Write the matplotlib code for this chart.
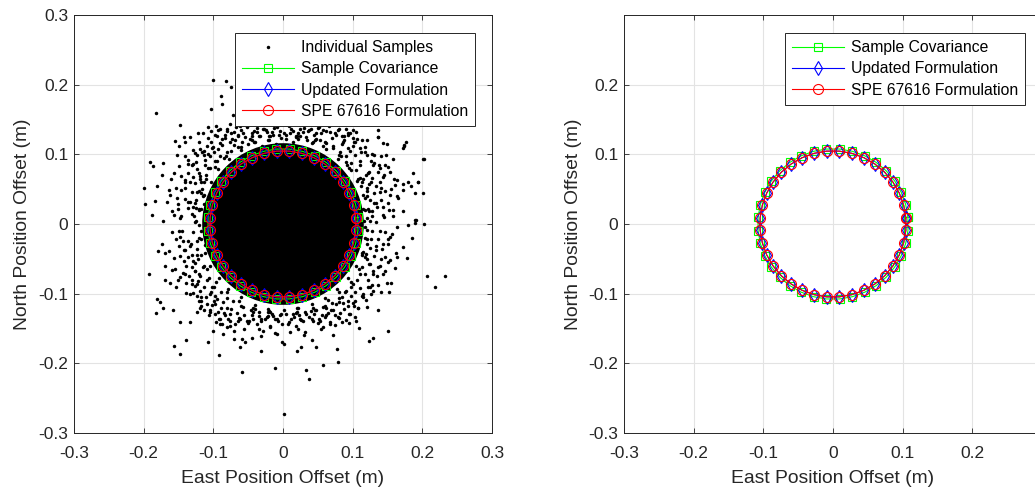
import numpy as np
import matplotlib
matplotlib.use("Agg")
import matplotlib.pyplot as plt
from matplotlib.patches import Circle

plt.rcParams['font.family'] = ['Liberation Sans', 'DejaVu Sans']

# ---------------- data ----------------
# individual samples outside the saturated core (east, north in metres)
sample_east = [
    # north-west
    -0.101, -0.082, -0.075, -0.089, -0.088, -0.104, -0.182, -0.148, -0.107, -0.115,
    -0.122, -0.133, -0.142, -0.155, -0.097, -0.094, -0.081, -0.083, -0.090, -0.102,
    -0.109, -0.076, -0.069, -0.071, -0.149, -0.141, -0.129, -0.124, -0.114, -0.107,
    -0.191, -0.187, -0.172, -0.152, -0.136, -0.131, -0.121, -0.112, -0.174, -0.157,
    -0.141, -0.133, -0.124, -0.199, -0.181, -0.164, -0.152, -0.136, -0.129, -0.198,
    -0.184, -0.167, -0.160, -0.148, -0.172, -0.188, -0.118, -0.115, -0.120, -0.112,
    -0.125, -0.110, -0.105, -0.095, -0.085, -0.075, -0.060, -0.050, -0.040, -0.030,
    -0.020, -0.010, -0.055, -0.065, -0.045, -0.035, -0.025, -0.015, -0.005, -0.062,
    -0.050, -0.038, -0.072, -0.116, -0.126, -0.119, -0.130, -0.113,
    -0.118, -0.125, -0.121, -0.114, -0.128, -0.136, -0.131, -0.119, -0.107, -0.098,
    -0.090, -0.081, -0.071, -0.059, -0.047, -0.033, -0.020, -0.006, -0.141, -0.123,
    -0.112, -0.099, -0.087, -0.073, -0.057, -0.042, -0.027, -0.013, -0.146, -0.126,
    -0.105, -0.094, -0.065, -0.140, -0.129, -0.116, -0.103, -0.083, -0.051, -0.019,
    -0.147, -0.136,
    # north-east
    0.100, 0.136, 0.174, 0.172, 0.203, 0.143, 0.131, 0.148, 0.158, 0.146,
    0.129, 0.139, 0.153, 0.143, 0.163, 0.172, 0.179, 0.194, 0.184, 0.172,
    0.189, 0.201, 0.165, 0.153, 0.139, 0.131, 0.143, 0.158, 0.172, 0.189,
    0.143, 0.124, 0.120, 0.115, 0.122, 0.110, 0.103, 0.093, 0.086, 0.076,
    0.067, 0.057, 0.048, 0.038, 0.029, 0.019, 0.010, 0.072, 0.062, 0.053,
    0.081, 0.091, 0.098, 0.108, 0.112, 0.117, 0.115, 0.120, 0.134, 0.127,
    0.134, 0.100, 0.110, 0.120, 0.093, 0.079, 0.043, 0.102, 0.114, 0.137,
    0.149, 0.176, 0.174, 0.201, 0.194, 0.187, 0.161, 0.137, 0.087, 0.096,
    0.203, 0.191, 0.189, 0.005, 0.015, 0.025, 0.035,
    0.118, 0.125, 0.121, 0.113, 0.128, 0.135, 0.130, 0.119, 0.105, 0.098,
    0.090, 0.082, 0.072, 0.060, 0.047, 0.033, 0.020, 0.005, 0.140, 0.124,
    0.110, 0.096, 0.085, 0.070, 0.055, 0.040, 0.025, 0.012, 0.145, 0.116,
    0.123, 0.139, 0.131, 0.118, 0.104, 0.084, 0.052, 0.147, 0.136,
    # south-west
    -0.174, -0.179, -0.169, -0.193, -0.170, -0.155, -0.169, -0.162, -0.153, -0.181,
    -0.176, -0.183, -0.172, -0.158, -0.148, -0.134, -0.139, -0.156, -0.148, -0.108,
    -0.092, -0.059, -0.011, 0.001, -0.143, -0.148, -0.150, -0.141, -0.133, -0.136,
    -0.129, -0.124, -0.131, -0.148, -0.141, -0.131, -0.124, -0.119, -0.133, -0.124,
    -0.121, -0.117, -0.109, -0.114, -0.124, -0.105, -0.098, -0.090, -0.083, -0.076,
    -0.069, -0.062, -0.052, -0.045, -0.038, -0.031, -0.023, -0.016, -0.009, -0.002,
    -0.088, -0.081, -0.071, -0.059, -0.054, -0.045, -0.035, -0.028, -0.019, -0.009,
    -0.002, -0.031, -0.062, -0.071, -0.086, -0.100, -0.090, -0.105, -0.102, -0.109,
    -0.119, -0.126, -0.118, -0.112, -0.098, -0.080, -0.060, -0.040, -0.020, -0.113,
    -0.117, -0.124, -0.122, -0.115, -0.129, -0.137, -0.130, -0.120, -0.106, -0.099,
    -0.089, -0.080, -0.072, -0.058, -0.046, -0.034, -0.021, -0.005, -0.142, -0.122,
    -0.113, -0.098, -0.086, -0.074, -0.056, -0.043, -0.026, -0.012, -0.145, -0.127,
    -0.104, -0.095, -0.066, -0.139, -0.130, -0.117, -0.102, -0.084, -0.050, -0.018,
    -0.148, -0.135,
    # south-east
    0.207, 0.218, 0.178, 0.185, 0.172, 0.163, 0.151, 0.155, 0.152, 0.143,
    0.136, 0.129, 0.136, 0.151, 0.129, 0.123, 0.109, 0.105, 0.108, 0.115,
    0.122, 0.129, 0.124, 0.134, 0.143, 0.153, 0.139, 0.163, 0.179, 0.120,
    0.117, 0.110, 0.100, 0.091, 0.084, 0.076, 0.069, 0.062, 0.053, 0.043,
    0.033, 0.024, 0.014, 0.007, 0.022, 0.031, 0.041, 0.048, 0.020, 0.026,
    0.058, 0.077, 0.079, 0.072, 0.057, 0.084, 0.096, 0.033, 0.037, 0.067,
    0.093, 0.103, 0.079, 0.062, 0.048, 0.002, 0.233, 0.115, 0.112, 0.020,
    0.040, 0.060, 0.080,
    0.118, 0.125, 0.120, 0.114, 0.128, 0.136, 0.131, 0.118, 0.106, 0.097,
    0.089, 0.080, 0.070, 0.058, 0.046, 0.032, 0.019, 0.005, 0.113, 0.142,
    0.122, 0.111, 0.098, 0.086, 0.072, 0.056, 0.041, 0.026, 0.012, 0.146,
    0.117, 0.125, 0.104, 0.093, 0.064, 0.139, 0.128, 0.115, 0.102, 0.082,
    0.050, 0.018, 0.147, 0.135,
]
sample_north = [
    # north-west
    0.207, 0.205, 0.196, 0.184, 0.172, 0.165, 0.159, 0.142, 0.139, 0.131,
    0.131, 0.125, 0.125, 0.119, 0.128, 0.135, 0.133, 0.123, 0.116, 0.109,
    0.112, 0.118, 0.120, 0.132, 0.112, 0.118, 0.106, 0.099, 0.099, 0.101,
    0.089, 0.083, 0.087, 0.099, 0.092, 0.085, 0.073, 0.085, 0.070, 0.073,
    0.063, 0.061, 0.046, 0.051, 0.054, 0.049, 0.037, 0.032, 0.025, 0.028,
    0.033, 0.032, 0.018, 0.008, 0.005, 0.013, 0.060, 0.040, 0.020, 0.010,
    0.005, 0.070, 0.080, 0.090, 0.095, 0.105, 0.110, 0.115, 0.118, 0.112,
    0.120, 0.115, 0.125, 0.128, 0.130, 0.127, 0.135, 0.128, 0.133, 0.140,
    0.142, 0.138, 0.156, 0.050, 0.030, 0.065, 0.015, 0.028,
    0.021, 0.034, 0.047, 0.061, 0.011, 0.023, 0.046, 0.069, 0.080, 0.090,
    0.098, 0.104, 0.113, 0.117, 0.122, 0.126, 0.127, 0.128, 0.036, 0.079,
    0.092, 0.104, 0.114, 0.122, 0.131, 0.134, 0.137, 0.138, 0.012, 0.059,
    0.097, 0.108, 0.126, 0.061, 0.086, 0.103, 0.118, 0.128, 0.140, 0.146,
    0.049, 0.073,
    # north-east
    0.135, 0.125, 0.114, 0.109, 0.093, 0.116, 0.099, 0.099, 0.094, 0.085,
    0.085, 0.080, 0.075, 0.068, 0.063, 0.058, 0.061, 0.061, 0.054, 0.049,
    0.044, 0.044, 0.037, 0.042, 0.046, 0.030, 0.025, 0.020, 0.018, 0.006,
    0.013, 0.018, 0.051, 0.065, 0.073, 0.085, 0.099, 0.109, 0.118, 0.128,
    0.132, 0.135, 0.130, 0.135, 0.132, 0.125, 0.131, 0.109, 0.116, 0.120,
    0.099, 0.089, 0.077, 0.065, 0.054, 0.037, 0.022, 0.008, 0.003, 0.061,
    0.054, 0.123, 0.109, 0.099, 0.130, 0.135, 0.118, 0.118, 0.121, 0.125,
    0.115, 0.117, 0.112, 0.093, 0.061, 0.073, 0.056, 0.135, 0.126, 0.131,
    0.000, 0.006, 0.002, 0.122, 0.118, 0.126, 0.121,
    0.020, 0.035, 0.048, 0.060, 0.012, 0.025, 0.045, 0.070, 0.078, 0.088,
    0.097, 0.104, 0.112, 0.118, 0.122, 0.125, 0.127, 0.128, 0.035, 0.075,
    0.090, 0.105, 0.115, 0.124, 0.130, 0.136, 0.137, 0.136, 0.010, 0.005,
    0.057, 0.060, 0.087, 0.104, 0.117, 0.127, 0.139, 0.047, 0.074,
    # south-west
    -0.028, -0.039, -0.042, -0.072, -0.060, -0.065, -0.081, -0.084, -0.091, -0.108,
    -0.112, -0.128, -0.120, -0.123, -0.140, -0.141, -0.167, -0.175, -0.186, -0.169,
    -0.188, -0.213, -0.206, -0.273, -0.024, -0.019, -0.010, -0.038, -0.031, -0.048,
    -0.053, -0.045, -0.062, -0.076, -0.072, -0.081, -0.086, -0.096, -0.100, -0.103,
    -0.110, -0.117, -0.115, -0.124, -0.127, -0.127, -0.129, -0.136, -0.131, -0.139,
    -0.143, -0.136, -0.139, -0.131, -0.143, -0.139, -0.134, -0.129, -0.136, -0.143,
    -0.143, -0.148, -0.153, -0.165, -0.170, -0.163, -0.151, -0.153, -0.148, -0.158,
    -0.170, -0.182, -0.177, -0.165, -0.158, -0.153, -0.143, -0.100, -0.091, -0.081,
    -0.074, -0.067, -0.010, -0.030, -0.115, -0.120, -0.118, -0.122, -0.125, -0.060,
    -0.021, -0.036, -0.050, -0.062, -0.012, -0.025, -0.045, -0.072, -0.078, -0.090,
    -0.098, -0.106, -0.111, -0.119, -0.124, -0.126, -0.127, -0.130, -0.038, -0.082,
    -0.090, -0.104, -0.112, -0.122, -0.131, -0.136, -0.137, -0.137, -0.010, -0.056,
    -0.097, -0.108, -0.128, -0.060, -0.086, -0.105, -0.116, -0.128, -0.142, -0.146,
    -0.046, -0.075,
    # south-east
    -0.074, -0.090, -0.049, -0.020, -0.033, -0.048, -0.055, -0.084, -0.098, -0.072,
    -0.062, -0.096, -0.124, -0.153, -0.163, -0.168, -0.149, -0.139, -0.120, -0.100,
    -0.091, -0.072, -0.057, -0.038, -0.029, -0.019, -0.010, -0.005, -0.001, -0.029,
    -0.048, -0.072, -0.086, -0.096, -0.105, -0.115, -0.124, -0.131, -0.139, -0.139,
    -0.129, -0.136, -0.129, -0.143, -0.151, -0.155, -0.167, -0.177, -0.183, -0.177,
    -0.203, -0.179, -0.198, -0.160, -0.148, -0.141, -0.129, -0.209, -0.222, -0.143,
    -0.117, -0.110, -0.134, -0.120, -0.124, -0.172, -0.074, -0.040, -0.015, -0.120,
    -0.125, -0.118, -0.112,
    -0.020, -0.035, -0.050, -0.062, -0.010, -0.022, -0.046, -0.072, -0.080, -0.090,
    -0.098, -0.106, -0.113, -0.119, -0.124, -0.126, -0.128, -0.129, -0.044, -0.036,
    -0.080, -0.092, -0.104, -0.114, -0.124, -0.131, -0.136, -0.138, -0.137, -0.012,
    -0.004, -0.058, -0.097, -0.110, -0.128, -0.060, -0.088, -0.105, -0.118, -0.128,
    -0.142, -0.146, -0.048, -0.075,
]

# further samples in the dense band just outside the error ellipses
band_east = [
    0.150, 0.155, 0.145, 0.138, 0.128, 0.118, 0.106, 0.094, 0.080, 0.066,
    0.050, 0.036, 0.022, 0.008, 0.158, 0.152, 0.128, 0.141, 0.133, 0.126,
    0.112, 0.100, 0.088, 0.075, 0.062, 0.044, 0.030, 0.015, 0.163, 0.160,
    0.150, 0.140, 0.120, 0.105, 0.091,
    0.151, 0.154, 0.146, 0.137, 0.127, 0.119, 0.107, 0.095, 0.081, 0.067,
    0.051, 0.037, 0.023, 0.009, 0.157, 0.151, 0.129, 0.140, 0.134, 0.125,
    0.113, 0.101, 0.087, 0.074, 0.061, 0.045, 0.029, 0.016, 0.162, 0.161,
    0.149, 0.141, 0.121, 0.104, 0.090, 0.010, 0.030, 0.055, 0.075, 0.095,
    -0.150, -0.156, -0.144, -0.139, -0.129, -0.117, -0.105, -0.093, -0.079, -0.065,
    -0.049, -0.035, -0.021, -0.007, -0.159, -0.153, -0.127, -0.142, -0.132, -0.127,
    -0.111, -0.099, -0.089, -0.076, -0.063, -0.043, -0.031, -0.014, -0.164, -0.159,
    -0.151, -0.139, -0.119, -0.106, -0.092, -0.012, -0.032, -0.056, -0.076, -0.096,
    -0.151, -0.154, -0.146, -0.137, -0.127, -0.119, -0.107, -0.095, -0.081, -0.067,
    -0.051, -0.037, -0.023, -0.009, -0.157, -0.151, -0.129, -0.140, -0.134, -0.125,
    -0.113, -0.101, -0.087, -0.074, -0.061, -0.045, -0.029, -0.016, -0.162, -0.161,
    -0.149, -0.141, -0.121, -0.104, -0.090, -0.012, -0.034, -0.056, -0.076, -0.096,
    # innermost fringe of the saturated core
    0.125, 0.120, 0.122, 0.128, 0.115, 0.121, 0.106, 0.110, 0.095, 0.092,
    0.079, 0.083, 0.062, 0.058, 0.042, 0.046, 0.021, 0.018, -0.003, 0.002,
    -0.022, -0.018, -0.041, -0.044, -0.061, -0.064, -0.078, -0.082, -0.093, -0.097,
    -0.104, -0.110, -0.113, -0.118, -0.120, -0.125, -0.121, -0.127, -0.120, -0.124,
    -0.112, -0.117, -0.105, -0.109, -0.092, -0.096, -0.079, -0.081, -0.061, -0.063,
    -0.040, -0.043, -0.021, -0.019, 0.001, -0.003, 0.022, 0.020, 0.041, 0.043,
    0.060, 0.065, 0.078, 0.081, 0.093, 0.097, 0.105, 0.109, 0.113, 0.119,
    0.121, 0.126,
]
band_north = [
    0.030, 0.050, 0.070, 0.085, 0.100, 0.110, 0.122, 0.128, 0.136, 0.140,
    0.138, 0.133, 0.131, 0.140, 0.012, 0.020, 0.066, 0.052, 0.030, 0.090,
    0.104, 0.112, 0.121, 0.130, 0.134, 0.128, 0.138, 0.133, 0.040, 0.065,
    0.082, 0.098, 0.120, 0.132, 0.137,
    -0.028, -0.052, -0.068, -0.087, -0.101, -0.109, -0.121, -0.129, -0.135, -0.141,
    -0.137, -0.134, -0.130, -0.141, -0.014, -0.022, -0.067, -0.050, -0.032, -0.091,
    -0.103, -0.113, -0.122, -0.131, -0.133, -0.129, -0.139, -0.134, -0.042, -0.063,
    -0.084, -0.097, -0.119, -0.133, -0.138, -0.155, -0.160, -0.150, -0.145, -0.142,
    -0.031, -0.049, -0.071, -0.084, -0.099, -0.111, -0.123, -0.127, -0.137, -0.139,
    -0.139, -0.132, -0.132, -0.139, -0.011, -0.021, -0.068, -0.053, -0.029, -0.089,
    -0.105, -0.111, -0.120, -0.129, -0.135, -0.127, -0.137, -0.132, -0.039, -0.066,
    -0.081, -0.099, -0.121, -0.131, -0.136, -0.156, -0.161, -0.151, -0.146, -0.141,
    0.029, 0.051, 0.069, 0.086, 0.102, 0.108, 0.123, 0.127, 0.137, 0.139,
    0.139, 0.132, 0.132, 0.139, 0.013, 0.021, 0.067, 0.051, 0.031, 0.089,
    0.105, 0.111, 0.122, 0.131, 0.135, 0.127, 0.137, 0.132, 0.041, 0.064,
    0.083, 0.098, 0.118, 0.134, 0.137, 0.150, 0.152, 0.148, 0.144, 0.140,
    # innermost fringe of the saturated core
    0.004, -0.008, 0.022, 0.018, 0.042, 0.040, 0.062, 0.066, 0.080, 0.085,
    0.094, 0.097, 0.107, 0.112, 0.116, 0.120, 0.122, 0.127, 0.124, 0.130,
    0.121, 0.126, 0.117, 0.121, 0.106, 0.110, 0.093, 0.098, 0.079, 0.082,
    0.061, 0.064, 0.041, 0.044, 0.021, 0.023, -0.002, 0.003, -0.020, -0.024,
    -0.041, -0.045, -0.060, -0.065, -0.078, -0.083, -0.094, -0.098, -0.105, -0.111,
    -0.116, -0.120, -0.122, -0.127, -0.123, -0.129, -0.121, -0.126, -0.115, -0.121,
    -0.106, -0.109, -0.093, -0.098, -0.078, -0.083, -0.061, -0.064, -0.042, -0.043,
    -0.021, -0.022,
]

# the saturated centre of the sample cloud (solid black in the reference)
core_center_east = 0.0
core_center_north = 0.0
core_radius = 0.116

# error ellipses: semi-axes (east, north) in metres
series_names = ["Sample Covariance", "Updated Formulation", "SPE 67616 Formulation"]
ellipse_east_radius = [0.108, 0.105, 0.105]
ellipse_north_radius = [0.108, 0.105, 0.105]
ellipse_n_points = 36
ellipse_phase_deg = 5.0

series_colors = ["#00ff00", "#0000ff", "#ff0000"]
series_markers = ["s", "d", "o"]
series_msize = [5.5, 7.2, 7.2]

axis_ticks = [-0.3, -0.2, -0.1, 0, 0.1, 0.2, 0.3]
axis_tick_labels = ["-0.3", "-0.2", "-0.1", "0", "0.1", "0.2", "0.3"]

# ---------------- figure ----------------
W, H = 1035, 493
fig = plt.figure(figsize=(W / 100, H / 100), dpi=100)
ax_l = fig.add_axes([74 / W, (H - 433) / H, 418 / W, 418 / H])
ax_r = fig.add_axes([624 / W, (H - 433) / H, 418 / W, 418 / H])

txt = "#262626"
tick_fs = 12.5
label_fs = 13.9
legend_fs = 11.3


def style(ax, nticks_x, nticks_y):
    ax.set_xlim(-0.3, 0.3)
    ax.set_ylim(-0.3, 0.3)
    ax.set_xticks(axis_ticks[:nticks_x])
    ax.set_xticklabels(axis_tick_labels[:nticks_x])
    ax.set_yticks(axis_ticks[:nticks_y])
    ax.set_yticklabels(axis_tick_labels[:nticks_y])
    ax.grid(True, color="#e3e3e3", linewidth=0.8, zorder=0)
    ax.set_axisbelow(True)
    ax.tick_params(direction="in", length=3.5, width=0.6, colors=txt,
                   labelsize=tick_fs, top=True, right=True)
    ax.tick_params(axis="x", pad=9)
    ax.tick_params(axis="y", pad=4)
    for s in ax.spines.values():
        s.set_color(txt)
        s.set_linewidth(0.7)
    ax.set_xlabel("East Position Offset (m)", fontsize=label_fs, color=txt, labelpad=7)
    ax.set_ylabel("North Position Offset (m)", fontsize=label_fs, color=txt, labelpad=5)


def draw_ellipses(ax):
    handles = []
    t = np.deg2rad(ellipse_phase_deg + np.arange(ellipse_n_points + 1) * 360.0 / ellipse_n_points)
    for name, a, b, c, m, ms in zip(series_names, ellipse_east_radius, ellipse_north_radius,
                                    series_colors, series_markers, series_msize):
        h, = ax.plot(a * np.cos(t), b * np.sin(t), color=c, linewidth=0.8,
                     marker=m, markersize=ms, markerfacecolor="none",
                     markeredgecolor=c, markeredgewidth=0.8, label=name, zorder=3)
        handles.append(h)
    return handles


legend_kw = dict(loc="upper right", bbox_to_anchor=(0.9593, 0.9569), borderaxespad=0,
                 fontsize=legend_fs, handlelength=3.3, handletextpad=0.45,
                 labelspacing=0.4, borderpad=0.45, fancybox=False,
                 framealpha=1, edgecolor=txt)

# left: samples + ellipses
ax_l.add_patch(Circle((core_center_east, core_center_north), core_radius,
                      facecolor="black", edgecolor="none", zorder=2))
hs, = ax_l.plot(sample_east + band_east, sample_north + band_north,
                linestyle="none", marker="o", markersize=2.5, color="black",
                markeredgewidth=0, label="Individual Samples", zorder=2)
h_ell = draw_ellipses(ax_l)
style(ax_l, 7, 7)
leg = ax_l.legend(handles=[hs] + h_ell, **legend_kw)
leg.get_frame().set_linewidth(0.7)

# right: ellipses only
h_ell_r = draw_ellipses(ax_r)
style(ax_r, 6, 6)
leg_r = ax_r.legend(handles=h_ell_r, **legend_kw)
leg_r.get_frame().set_linewidth(0.7)

fig.savefig("out.png", dpi=100)
